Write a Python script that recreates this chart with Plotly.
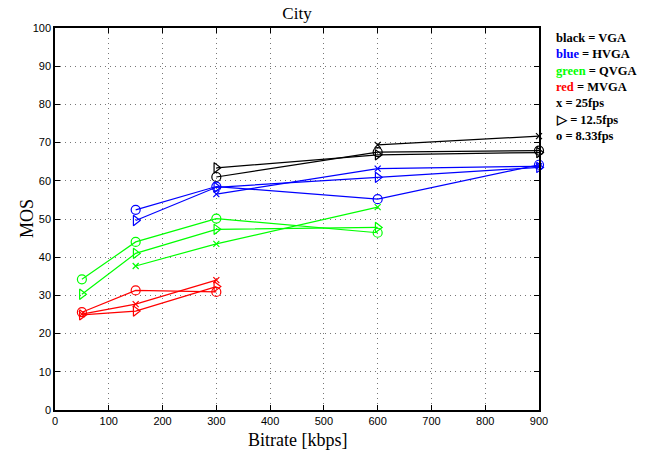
import plotly.graph_objects as go

bitrate_vga = [300, 600, 900]
bitrate_vga_x = [600, 900]
bitrate_hvga = [150, 300, 600, 900]
bitrate_hvga_x = [300, 600, 900]
bitrate_qvga = [50, 150, 300, 600]
bitrate_qvga_x = [150, 300, 600]
bitrate_mvga = [50, 150, 300]

vga_25 = [69.4, 71.7]
vga_12 = [63.4, 66.8, 67.4]
vga_8 = [61.0, 67.5, 67.9]

hvga_25 = [56.5, 63.2, 63.8]
hvga_12 = [49.6, 58.3, 60.9, 63.5]
hvga_8 = [52.4, 58.5, 55.2, 64.2]

qvga_25 = [37.7, 43.5, 53.1]
qvga_12 = [30.3, 41.0, 47.3, 47.8]
qvga_8 = [34.2, 44.0, 50.1, 46.4]

mvga_25 = [25.1, 27.7, 34.0]
mvga_12 = [24.9, 25.9, 32.3]
mvga_8 = [25.6, 31.3, 30.9]

x_ticks = [0, 100, 200, 300, 400, 500, 600, 700, 800, 900]
y_ticks = [0, 10, 20, 30, 40, 50, 60, 70, 80, 90, 100]

legend_lines = [
    ("<span style='color:#000000'>black</span> = VGA"),
    ("<span style='color:#0000ff'>blue</span> = HVGA"),
    ("<span style='color:#00ff00'>green</span> = QVGA"),
    ("<span style='color:#ff0000'>red</span> = MVGA"),
    ("x = 25fps"),
    ("\u25b7 = 12.5fps"),
    ("o = 8.33fps"),
]

series = [
    (bitrate_vga_x, vga_25, "#000000", "x-thin-open"),
    (bitrate_vga, vga_12, "#000000", "triangle-right-open"),
    (bitrate_vga, vga_8, "#000000", "circle-open"),
    (bitrate_hvga_x, hvga_25, "#0000ff", "x-thin-open"),
    (bitrate_hvga, hvga_12, "#0000ff", "triangle-right-open"),
    (bitrate_hvga, hvga_8, "#0000ff", "circle-open"),
    (bitrate_qvga_x, qvga_25, "#00ff00", "x-thin-open"),
    (bitrate_qvga, qvga_12, "#00ff00", "triangle-right-open"),
    (bitrate_qvga, qvga_8, "#00ff00", "circle-open"),
    (bitrate_mvga, mvga_25, "#ff0000", "x-thin-open"),
    (bitrate_mvga, mvga_12, "#ff0000", "triangle-right-open"),
    (bitrate_mvga, mvga_8, "#ff0000", "circle-open"),
]

fig = go.Figure()
for xs, ys, col, sym in series:
    size = 6 if sym == "x-thin-open" else 9
    fig.add_trace(go.Scatter(
        x=xs, y=ys, mode="lines+markers",
        line=dict(color=col, width=1.2),
        marker=dict(symbol=sym, size=size, color=col, line=dict(color=col, width=1.2)),
        cliponaxis=False, showlegend=False,
    ))

axis_common = dict(
    showline=True, linecolor="black", linewidth=1.5, mirror="ticks",
    ticks="inside", ticklen=5, tickcolor="black",
    showgrid=True, gridcolor="#777777", griddash="1px,4px", gridwidth=1,
    zeroline=False, automargin=False,
    tickfont=dict(family="Liberation Sans, Arial", size=11, color="black"),
)

fig.update_xaxes(range=[0, 900], tickvals=x_ticks, **axis_common)
fig.update_yaxes(range=[0, 100], tickvals=y_ticks, **axis_common)

serif = "Liberation Serif, Times New Roman"
fig.add_annotation(text="Bitrate [kbps]", xref="paper", yref="paper", x=0.5, y=-30 / 382,
                   xanchor="center", yanchor="middle", showarrow=False,
                   font=dict(family=serif, size=18, color="black"))
fig.add_annotation(text="MOS", xref="paper", yref="paper", x=-28 / 484, y=0.5,
                   xanchor="center", yanchor="middle", textangle=-90, showarrow=False,
                   font=dict(family=serif, size=18, color="black"))

for i, t in enumerate(legend_lines):
    fig.add_annotation(
        text="<b>" + t + "</b>", xref="paper", yref="paper",
        x=1.03, y=1 - (38 + 16.3 * i - 28) / 382, xanchor="left", yanchor="middle",
        showarrow=False, font=dict(family=serif, size=12.5, color="black"),
    )

fig.update_layout(
    width=653, height=454,
    margin=dict(l=55, r=114, t=28, b=44),
    paper_bgcolor="white", plot_bgcolor="white",
    title=dict(text="City", x=(55 + 539) / 2 / 653, xanchor="center", y=1 - 13 / 454, yanchor="middle",
               font=dict(family=serif, size=17, color="black")),
)

fig.write_html("out.html")
